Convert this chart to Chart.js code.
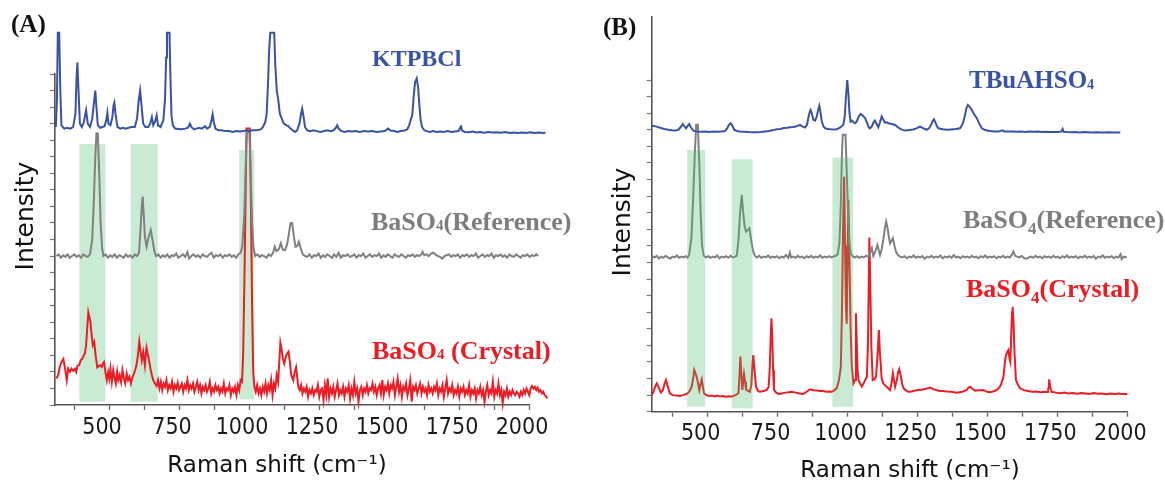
<!DOCTYPE html>
<html><head><meta charset="utf-8">
<script src="https://cdn.jsdelivr.net/npm/chart.js@4"></script>
<style>
html,body{margin:0;padding:0;background:#fff;width:1165px;height:481px;overflow:hidden}
#wa{position:absolute;left:0;top:0;width:582px;height:481px}
#wb{position:absolute;left:582px;top:0;width:583px;height:481px}
</style></head><body>
<div id="wa"><canvas id="ca"></canvas></div>
<div id="wb"><canvas id="cb"></canvas></div>
<script>
// ---------- DATA ----------
const xTicks = [375,500,625,750,875,1000,1125,1250,1375,1500,1625,1750,1875,2000];
const xLabels = [500,750,1000,1250,1500,1750,2000];
const yTicks = [0,1,2,3,4,5,6,7,8,9,10,11,12,13,14,15,16,17,18,19,20];

// Panel A
const ktpbcl = [[310,16.8],[314,18.5],[317,22.5],[322,22.5],[326,19],[330,16.9],[340,16.7],[350,16.75],[362,16.7],[372,16.8],[380,17.6],[384,19.8],[387,20.7],[391,19],[396,17],[403,16.8],[410,17.1],[418,17.8],[424,17.0],[432,16.8],[440,17.3],[447,18.4],[451,19.0],[455,18],[460,16.9],[468,16.75],[476,16.8],[484,16.85],[490,17.2],[494,17.66],[498,17.0],[505,16.9],[512,17.4],[516,18.1],[519,18.27],[523,17.6],[530,16.8],[540,16.7],[550,16.75],[560,16.7],[570,16.75],[580,16.8],[592,16.8],[600,17.3],[606,18.4],[611,19.0],[616,18.1],[622,17.0],[630,16.8],[640,16.8],[647,17.0],[653,17.4],[658,16.9],[664,17.1],[670,17.5],[675,16.9],[684,16.8],[694,17.2],[700,18.5],[704,21],[707,22.5],[716,22.5],[719,20],[723,17.5],[728,16.9],[736,16.7],[748,16.68],[760,16.66],[772,16.7],[782,16.75],[789,17.0],[794,16.8],[803,16.65],[812,16.7],[822,16.75],[832,16.7],[843,16.85],[850,16.7],[860,16.8],[866,17.2],[870,17.56],[874,17.1],[880,16.7],[890,16.6],[903,16.6],[915,16.55],[928,16.55],[943,16.5],[955,16.55],[968,16.52],[980,16.55],[991,16.6],[1002,16.55],[1012,16.6],[1022,16.6],[1032,16.62],[1042,16.65],[1050,16.8],[1058,17.1],[1063,17.6],[1068,19.5],[1072,21.5],[1076,22.5],[1090,22.5],[1094,20.5],[1099,19.0],[1104,18.5],[1110,17.6],[1117,17.3],[1124,17.0],[1134,16.9],[1140,16.85],[1148,16.7],[1156,16.6],[1164,16.5],[1172,16.6],[1180,17.0],[1186,17.6],[1190,17.9],[1195,17.4],[1200,16.8],[1208,16.6],[1218,16.55],[1230,16.6],[1242,16.55],[1255,16.5],[1268,16.55],[1280,16.6],[1292,16.55],[1302,16.6],[1310,16.75],[1315,16.9],[1320,16.7],[1330,16.55],[1342,16.5],[1355,16.55],[1368,16.52],[1380,16.55],[1395,16.5],[1410,16.55],[1425,16.52],[1440,16.55],[1455,16.5],[1470,16.52],[1485,16.55],[1497,16.7],[1505,16.58],[1518,16.55],[1530,16.5],[1542,16.55],[1555,16.58],[1565,16.65],[1572,16.9],[1577,17.2],[1583,17.5],[1588,18.6],[1593,19.5],[1599,19.74],[1604,19.2],[1609,18.0],[1613,17.2],[1618,16.8],[1626,16.6],[1634,16.55],[1645,16.5],[1658,16.55],[1670,16.5],[1684,16.52],[1696,16.5],[1710,16.55],[1722,16.5],[1735,16.52],[1748,16.55],[1754,16.75],[1757,16.9],[1760,16.6],[1770,16.5],[1784,16.48],[1798,16.52],[1812,16.47],[1826,16.5],[1840,16.45],[1855,16.5],[1870,16.46],[1885,16.48],[1900,16.45],[1915,16.5],[1930,16.44],[1945,16.47],[1960,16.43],[1975,16.47],[1990,16.44],[2005,16.48],[2020,16.43],[2035,16.46],[2048,16.44],[2059,16.45]];

const refA = [[312,9.0],[320,9.1],[328,8.9],[336,9.05],[344,8.95],[352,9.1],[360,8.9],[368,9.0],[376,9.1],[384,8.95],[392,9.05],[400,8.9],[408,9.1],[416,9.0],[424,8.95],[432,9.1],[440,10.0],[446,12.5],[451,15],[455,16.4],[460,16.4],[465,14],[470,11],[475,9.5],[480,9.0],[488,9.1],[496,8.9],[504,9.05],[512,8.95],[520,9.1],[528,8.9],[536,9.05],[544,9.0],[552,8.9],[560,9.1],[568,8.95],[576,9.05],[584,8.9],[592,9.1],[600,9.0],[607,9.2],[612,10.5],[617,12.0],[620,12.6],[624,11.5],[628,10.2],[634,9.57],[641,10.1],[649,10.57],[655,10.0],[662,9.3],[668,9.0],[676,9.1],[684,8.9],[692,9.05],[700,8.95],[708,9.1],[716,8.9],[724,9.05],[732,9.0],[740,9.15],[748,8.9],[756,9.0],[764,9.1],[772,8.95],[780,9.25],[786,8.85],[794,9.0],[802,9.1],[810,8.95],[818,9.05],[826,8.9],[834,9.1],[842,9.0],[850,8.95],[858,9.1],[866,9.2],[874,8.9],[882,9.05],[890,9.0],[898,9.1],[906,8.9],[914,9.05],[922,9.0],[930,9.1],[938,8.95],[946,9.05],[954,8.9],[962,9.1],[970,9.2],[976,9.6],[983,11.5],[989,15],[993,16.5],[1001,16.5],[1006,14],[1011,11],[1016,9.5],[1022,9.0],[1030,9.1],[1038,8.95],[1046,9.05],[1054,9.0],[1062,8.9],[1070,9.1],[1078,9.0],[1086,9.2],[1092,9.57],[1098,9.3],[1106,9.4],[1114,9.77],[1120,9.4],[1128,9.35],[1136,9.7],[1142,10.3],[1148,10.98],[1154,11.0],[1160,10.2],[1166,9.57],[1172,9.6],[1178,9.87],[1184,9.5],[1192,9.1],[1200,9.0],[1208,8.95],[1216,9.1],[1224,8.9],[1232,9.05],[1240,9.0],[1248,9.15],[1256,8.9],[1264,9.05],[1272,8.95],[1280,9.1],[1288,9.0],[1296,8.9],[1304,9.1],[1312,8.95],[1320,9.2],[1328,8.9],[1336,9.05],[1344,9.0],[1352,9.1],[1360,8.95],[1368,9.0],[1376,9.1],[1384,8.9],[1392,9.05],[1400,9.0],[1408,9.15],[1416,8.9],[1424,9.0],[1432,9.1],[1440,8.95],[1448,9.05],[1456,9.0],[1464,9.15],[1472,8.9],[1480,9.05],[1488,8.95],[1496,9.1],[1504,9.0],[1512,8.9],[1520,9.1],[1528,9.0],[1536,8.95],[1544,9.1],[1552,9.0],[1560,8.9],[1568,9.05],[1576,9.0],[1584,9.1],[1592,8.95],[1600,9.05],[1608,9.0],[1616,9.1],[1620,9.25],[1626,9.05],[1634,9.1],[1642,9.0],[1650,9.15],[1658,9.2],[1666,9.1],[1674,9.0],[1682,8.95],[1690,8.85],[1698,9.0],[1706,9.05],[1714,9.1],[1722,8.95],[1730,9.05],[1738,9.0],[1746,9.1],[1754,8.9],[1762,9.05],[1770,9.0],[1778,9.1],[1786,8.95],[1794,9.05],[1802,9.0],[1810,9.15],[1818,8.9],[1826,9.0],[1834,9.1],[1842,8.95],[1850,9.05],[1858,9.0],[1866,9.15],[1874,8.9],[1882,9.05],[1890,9.0],[1898,9.1],[1906,8.95],[1914,9.05],[1922,8.9],[1930,9.1],[1938,9.0],[1946,8.95],[1954,9.1],[1962,9.0],[1970,8.9],[1978,9.05],[1986,9.0],[1994,9.1],[2002,8.95],[2010,9.05],[2018,9.0],[2026,9.1],[2033,9.0]];

const crystalA = [[312,1.6],[318,1.8],[324,2.3],[330,2.6],[337,2.78],[343,2.2],[349,1.5],[354,2.2],[360,2.0],[366,2.2],[372,2.07],[378,2.2],[383,2.0],[387,2.36],[393,2.4],[399,2.7],[405,2.8],[410,3.0],[414,3.12],[418,3.6],[422,4.6],[426,5.6],[430,5.3],[434,4.94],[438,4.2],[442,3.63],[447,3.83],[452,3.0],[458,2.28],[463,2.35],[468,2.4],[474,2.3],[478,2.5],[482,2.6],[487,2.0],[492,1.5],[497,2.0],[501,1.6],[505,2.2],[510,1.4],[515,2.1],[519,1.7],[524,1.3],[529,2.0],[533,1.5],[538,1.8],[543,1.4],[548,2.1],[553,1.6],[558,1.3],[563,1.9],[568,1.5],[573,1.7],[578,1.3],[584,1.7],[589,1.9],[593,2.1],[598,2.4],[603,3.0],[608,3.83],[612,3.3],[617,2.7],[622,3.2],[628,2.4],[631,3.0],[634,3.46],[638,3.1],[643,2.7],[648,2.2],[653,1.8],[658,1.5],[664,1.3],[670,1.15],[675,1.5],[680,1.0],[685,1.4],[690,0.9],[695,1.3],[700,1.1],[705,1.5],[710,0.9],[715,1.2],[720,1.0],[725,1.4],[730,0.8],[735,1.2],[740,1.0],[745,1.35],[750,0.9],[755,1.1],[760,1.3],[765,0.8],[770,1.2],[775,1.0],[780,1.5],[785,0.9],[790,1.2],[795,1.0],[800,1.3],[805,0.8],[810,1.1],[815,1.4],[820,0.9],[825,1.2],[830,0.7],[835,1.1],[840,0.9],[845,1.2],[850,0.8],[855,1.0],[860,1.4],[865,0.7],[870,1.0],[875,0.8],[880,1.2],[885,0.9],[890,1.1],[895,0.7],[900,1.0],[905,0.8],[910,1.3],[915,0.7],[920,1.0],[925,0.9],[930,1.2],[935,0.6],[940,1.0],[945,0.8],[950,1.1],[955,0.6],[960,1.2],[965,0.9],[970,1.5],[975,1.4],[979,3],[984,8],[988,13],[991,16.7],[1003,16.7],[1007,12],[1011,6],[1015,2],[1019,1.1],[1024,0.8],[1029,1.2],[1034,0.7],[1039,1.0],[1044,0.6],[1049,1.1],[1054,0.8],[1059,1.3],[1064,0.7],[1069,1.2],[1074,0.9],[1079,1.5],[1084,0.6],[1089,1.3],[1094,1.0],[1099,1.8],[1104,1.4],[1108,2.6],[1112,3.76],[1116,3.4],[1121,2.8],[1126,2.5],[1131,2.9],[1136,3.1],[1141,3.22],[1146,2.6],[1151,1.8],[1158,1.5],[1163,2.0],[1168,2.28],[1172,1.7],[1176,1.1],[1181,0.9],[1186,1.2],[1191,0.7],[1196,1.0],[1201,0.8],[1206,1.1],[1211,0.5],[1216,0.9],[1221,0.7],[1226,1.0],[1231,0.6],[1236,0.9],[1241,0.8],[1246,1.2],[1251,0.5],[1256,0.9],[1261,1.0],[1266,0.3],[1271,1.2],[1276,0.6],[1281,1.6],[1286,0.5],[1291,1.0],[1296,0.7],[1301,1.1],[1306,0.5],[1311,0.9],[1316,1.3],[1321,0.6],[1326,0.9],[1331,0.7],[1336,1.1],[1341,0.5],[1346,1.0],[1351,0.8],[1356,1.2],[1361,0.4],[1366,1.0],[1371,0.6],[1376,1.4],[1381,0.7],[1386,1.0],[1391,0.2],[1396,0.9],[1401,1.1],[1406,0.6],[1411,1.0],[1416,0.8],[1421,1.2],[1426,0.7],[1431,1.0],[1436,0.9],[1441,1.3],[1446,0.8],[1451,1.1],[1456,0.6],[1461,1.0],[1466,1.2],[1471,0.7],[1476,1.5],[1481,0.6],[1486,1.1],[1491,0.9],[1496,1.3],[1501,0.7],[1506,1.2],[1511,1.0],[1516,1.4],[1521,0.6],[1526,1.1],[1531,1.6],[1536,0.8],[1541,1.2],[1546,0.5],[1551,1.1],[1556,0.9],[1561,1.3],[1566,0.6],[1571,1.0],[1576,1.5],[1581,0.2],[1586,1.1],[1591,0.9],[1596,1.2],[1601,0.7],[1606,1.0],[1611,1.3],[1616,0.7],[1621,1.1],[1626,0.8],[1631,1.0],[1636,0.6],[1641,1.2],[1646,0.8],[1651,1.0],[1656,0.7],[1661,1.1],[1666,0.9],[1671,1.3],[1676,0.6],[1681,1.0],[1686,0.8],[1691,1.2],[1696,0.5],[1701,1.0],[1706,1.5],[1711,0.7],[1716,1.0],[1721,0.8],[1726,1.2],[1731,0.6],[1736,0.9],[1741,0.7],[1746,1.1],[1751,0.5],[1756,1.0],[1761,0.8],[1766,1.1],[1771,0.6],[1776,0.9],[1781,0.7],[1786,1.2],[1791,0.5],[1796,0.9],[1801,0.7],[1806,1.0],[1811,0.4],[1816,0.9],[1821,0.7],[1826,1.1],[1831,0.6],[1836,0.9],[1841,0.2],[1846,0.8],[1851,1.2],[1856,0.6],[1861,0.9],[1866,0.7],[1871,1.4],[1876,0.5],[1881,0.9],[1886,0.7],[1891,1.3],[1896,0.6],[1901,0.9],[1906,0.1],[1911,0.8],[1916,0.6],[1921,1.0],[1926,0.5],[1931,0.8],[1936,0.6],[1941,0.9],[1946,0.7],[1951,0.6],[1956,0.8],[1961,0.7],[1966,0.5],[1971,0.8],[1976,0.6],[1981,0.9],[1986,0.7],[1991,1.0],[1996,0.8],[2001,0.6],[2006,1.0],[2011,1.15],[2016,1.0],[2021,1.1],[2026,0.9],[2031,1.05],[2036,0.8],[2041,0.9],[2046,0.7],[2051,0.8],[2056,0.6],[2061,0.5],[2066,0.4]];

const bandsA = [[394,487,0.2,15.77],[577,674,0.2,15.77],[965,1019,0.34,15.4]];

// Panel B
const tbuahso4 = [[300,17.23],[310,17.22],[318,17.19],[330,17.12],[345,17.05],[360,17.0],[372,16.97],[383,16.95],[395,17.0],[403,17.15],[411,17.35],[417,17.2],[423,17.09],[429,17.25],[434,17.35],[440,17.15],[449,16.95],[460,16.9],[475,16.88],[490,16.9],[505,16.87],[520,16.9],[535,16.88],[550,16.9],[562,16.92],[570,17.1],[576,17.3],[582,17.39],[588,17.25],[595,17.0],[604,16.93],[615,16.9],[630,16.88],[645,16.86],[660,16.85],[675,16.85],[690,16.87],[705,16.9],[720,16.93],[735,16.98],[747,17.03],[760,17.05],[772,17.1],[785,17.12],[794,17.15],[805,17.17],[815,17.2],[823,17.25],[830,17.29],[838,17.2],[848,17.13],[855,17.3],[861,17.8],[865,18.1],[868,18.2],[872,18.0],[878,17.6],[884,17.55],[890,17.8],[895,18.2],[899,18.44],[903,18.1],[908,17.5],[914,17.2],[920,17.09],[930,17.05],[940,17.03],[950,17.02],[961,17.03],[970,17.1],[978,17.2],[985,17.3],[990,17.8],[994,18.9],[999,20.0],[1003,19.2],[1007,18.0],[1011,17.49],[1016,17.55],[1021,17.45],[1027,17.39],[1033,17.5],[1040,17.8],[1047,17.96],[1055,17.85],[1063,17.7],[1070,17.4],[1076,17.15],[1080,17.09],[1087,17.2],[1093,17.45],[1098,17.55],[1104,17.35],[1110,17.15],[1116,17.45],[1122,17.8],[1128,17.6],[1134,17.43],[1140,17.45],[1146,17.39],[1158,17.35],[1170,17.29],[1180,17.15],[1192,17.02],[1206,16.95],[1220,16.98],[1235,17.02],[1248,17.1],[1259,17.19],[1270,17.1],[1283,17.0],[1292,17.1],[1300,17.35],[1305,17.55],[1309,17.63],[1314,17.45],[1320,17.2],[1325,17.09],[1340,17.03],[1355,17.0],[1370,17.02],[1388,17.05],[1402,17.09],[1410,17.3],[1416,17.6],[1420,17.9],[1425,18.3],[1430,18.5],[1436,18.4],[1444,18.2],[1452,17.95],[1462,17.7],[1470,17.4],[1480,17.09],[1490,17.0],[1498,16.95],[1510,16.92],[1525,16.9],[1540,16.9],[1555,16.97],[1560,16.9],[1575,16.89],[1590,16.9],[1605,16.88],[1620,16.9],[1635,16.87],[1650,16.89],[1665,16.88],[1680,16.9],[1695,16.86],[1710,16.88],[1725,16.87],[1740,16.86],[1755,16.87],[1765,16.9],[1769,17.05],[1773,16.88],[1785,16.86],[1800,16.85],[1815,16.87],[1830,16.84],[1845,16.86],[1860,16.85],[1875,16.83],[1890,16.85],[1905,16.84],[1920,16.83],[1935,16.85],[1950,16.83],[1965,16.84],[1975,16.83]];

const refB = [[300,9.39],[310,9.3],[318,9.4],[326,9.25],[334,9.35],[342,9.28],[350,9.4],[358,9.3],[366,9.22],[374,9.35],[382,9.3],[390,9.42],[398,9.28],[406,9.35],[414,9.3],[422,9.38],[428,9.3],[434,9.45],[442,10.5],[448,12.8],[454,15.5],[459,17.3],[465,17.3],[470,15],[475,12],[480,10],[486,9.4],[494,9.3],[502,9.38],[510,9.28],[518,9.35],[526,9.3],[534,9.42],[542,9.25],[550,9.35],[558,9.3],[566,9.38],[574,9.28],[582,9.4],[590,9.3],[598,9.35],[604,9.4],[610,10.3],[616,12.0],[622,13.07],[627,12.0],[632,11.2],[637,10.86],[643,10.95],[649,11.06],[655,10.4],[662,9.7],[669,9.39],[676,9.3],[684,9.4],[692,9.28],[700,9.35],[708,9.3],[716,9.42],[724,9.28],[732,9.35],[740,9.3],[748,9.38],[756,9.25],[764,9.35],[772,9.3],[780,9.45],[788,9.28],[794,9.6],[798,9.3],[806,9.35],[814,9.28],[822,9.4],[830,9.3],[838,9.35],[846,9.25],[854,9.38],[862,9.3],[870,9.4],[878,9.28],[886,9.35],[894,9.3],[902,9.42],[910,9.28],[918,9.35],[926,9.3],[934,9.38],[942,9.3],[950,9.35],[958,9.4],[965,9.5],[971,10.2],[976,12.5],[980,15.5],[983,16.7],[993,16.7],[997,14.5],[1002,12],[1007,10.2],[1012,9.5],[1018,9.39],[1026,9.3],[1034,9.38],[1042,9.28],[1050,9.35],[1058,9.3],[1066,9.4],[1075,9.35],[1081,9.6],[1087,9.86],[1092,9.4],[1100,9.7],[1107,10.05],[1112,9.7],[1116,9.45],[1122,9.8],[1128,10.4],[1133,11.0],[1138,11.46],[1143,11.1],[1148,10.5],[1152,10.16],[1157,10.3],[1162,10.46],[1168,10.0],[1173,9.65],[1180,9.45],[1188,9.35],[1196,9.3],[1204,9.38],[1212,9.25],[1220,9.35],[1228,9.3],[1236,9.42],[1244,9.28],[1252,9.35],[1260,9.3],[1268,9.38],[1276,9.22],[1284,9.35],[1292,9.3],[1300,9.4],[1308,9.28],[1316,9.35],[1324,9.3],[1332,9.42],[1340,9.25],[1348,9.35],[1356,9.3],[1364,9.38],[1372,9.28],[1380,9.45],[1388,9.3],[1396,9.35],[1404,9.25],[1412,9.38],[1420,9.3],[1428,9.35],[1436,9.28],[1444,9.4],[1452,9.3],[1460,9.35],[1468,9.25],[1476,9.38],[1484,9.3],[1492,9.42],[1500,9.28],[1508,9.35],[1516,9.3],[1524,9.38],[1532,9.25],[1540,9.35],[1548,9.3],[1556,9.4],[1564,9.28],[1572,9.35],[1580,9.3],[1587,9.45],[1593,9.65],[1599,9.4],[1606,9.35],[1614,9.3],[1623,9.39],[1632,9.25],[1640,9.22],[1648,9.3],[1656,9.35],[1664,9.28],[1672,9.4],[1680,9.3],[1688,9.35],[1696,9.25],[1704,9.38],[1712,9.3],[1720,9.35],[1728,9.28],[1736,9.4],[1744,9.3],[1752,9.35],[1760,9.25],[1768,9.38],[1776,9.3],[1784,9.42],[1792,9.28],[1800,9.35],[1808,9.3],[1816,9.38],[1824,9.25],[1832,9.35],[1840,9.3],[1848,9.4],[1856,9.28],[1864,9.35],[1872,9.3],[1880,9.38],[1888,9.22],[1896,9.35],[1904,9.3],[1912,9.42],[1920,9.28],[1928,9.35],[1936,9.3],[1944,9.38],[1952,9.25],[1960,9.35],[1968,9.3],[1976,9.5],[1980,9.2],[1988,9.35],[1998,9.3]];

const crystalB = [[300,1.0],[306,1.2],[312,1.5],[318,1.71],[324,1.5],[333,1.15],[340,1.3],[346,1.7],[351,1.91],[356,1.6],[365,1.11],[375,1.0],[388,0.97],[401,0.95],[412,1.0],[425,1.07],[434,1.2],[443,1.51],[448,2.0],[452,2.52],[457,2.3],[463,1.95],[470,1.31],[475,1.7],[479,1.95],[483,1.5],[487,1.11],[495,1.0],[505,0.95],[515,0.98],[525,0.92],[535,0.97],[545,0.92],[555,0.95],[565,0.9],[575,0.93],[586,0.92],[598,0.98],[610,1.11],[614,2.2],[617,3.32],[620,2.4],[624,1.31],[627,1.8],[630,2.27],[634,1.8],[637,1.35],[644,1.25],[651,1.2],[656,1.6],[660,2.8],[663,3.42],[667,2.6],[673,1.51],[680,1.25],[687,1.2],[699,1.25],[711,1.31],[718,1.5],[722,2.6],[725,4.3],[728,5.63],[731,4.5],[734,2.5],[737,1.31],[745,1.15],[753,1.07],[765,1.1],[778,1.15],[790,1.18],[801,1.2],[815,1.15],[828,1.1],[842,1.07],[854,1.2],[866,1.35],[878,1.3],[890,1.28],[902,1.25],[913,1.25],[925,1.2],[935,1.22],[944,1.2],[953,1.3],[961,1.41],[968,1.8],[972,2.2],[976,2.71],[980,6],[984,11],[988,14.17],[991,10],[994,6.5],[997,5.3],[1000,9],[1003,12.77],[1007,9],[1011,5],[1015,2.8],[1021,1.71],[1027,1.91],[1030,5.93],[1033,4.2],[1036,2.5],[1039,1.91],[1045,1.7],[1051,1.51],[1060,1.8],[1069,2.11],[1073,4],[1076,8],[1078,10.5],[1081,8],[1085,4],[1090,1.91],[1096,1.95],[1102,2.11],[1107,3.3],[1112,4.93],[1116,3.5],[1122,2.0],[1128,1.71],[1140,1.5],[1152,1.31],[1157,1.7],[1162,2.32],[1166,1.9],[1170,1.51],[1176,1.9],[1181,2.4],[1185,2.56],[1190,2.2],[1195,1.7],[1200,1.41],[1208,1.3],[1217,1.2],[1230,1.22],[1242,1.28],[1253,1.31],[1265,1.33],[1280,1.38],[1295,1.45],[1308,1.35],[1325,1.27],[1340,1.25],[1355,1.22],[1370,1.2],[1391,1.15],[1410,1.2],[1425,1.3],[1432,1.45],[1438,1.51],[1445,1.4],[1456,1.27],[1470,1.3],[1486,1.31],[1498,1.2],[1510,1.17],[1525,1.25],[1537,1.35],[1545,1.51],[1551,1.75],[1557,2.07],[1562,2.9],[1566,3.42],[1571,3.6],[1575,3.72],[1579,3.2],[1582,3.0],[1585,4.5],[1588,6.0],[1590,6.33],[1593,5.5],[1597,3.5],[1602,1.91],[1610,1.6],[1617,1.41],[1630,1.3],[1645,1.25],[1660,1.2],[1675,1.22],[1690,1.18],[1705,1.2],[1716,1.18],[1719,1.5],[1721,1.95],[1724,1.5],[1730,1.2],[1745,1.15],[1760,1.12],[1775,1.15],[1790,1.1],[1805,1.13],[1820,1.08],[1835,1.12],[1850,1.1],[1865,1.07],[1880,1.12],[1895,1.08],[1910,1.1],[1925,1.06],[1940,1.1],[1955,1.07],[1970,1.09],[1985,1.06],[2000,1.07]];

const bandsB = [[427,491,0.3,15.78],[586,661,0.2,15.22],[946,1020,0.3,15.32]];

// ---------- STYLE ----------
const BLUE = 'rgb(57,83,164)', GRAY = 'rgb(128,128,128)', RED = 'rgb(236,28,36)';
const BAND = 'rgba(80,190,110,0.30)';
const SERIF = "'Liberation Serif','Times New Roman',serif";
const SANS = "'DejaVu Sans',sans-serif";
const NARROW = "'Liberation Sans Narrow','DejaVu Sans Condensed','Liberation Sans',sans-serif";

function bandsPlugin(list, over) {
  const draw = (chart) => {
    const {ctx, scales:{x, y}} = chart;
    ctx.save(); ctx.fillStyle = BAND;
    list.forEach(b => {
      const x0 = x.getPixelForValue(b[0]), x1 = x.getPixelForValue(b[1]);
      const y0 = y.getPixelForValue(b[3]), y1 = y.getPixelForValue(b[2]);
      ctx.fillRect(x0, y0, x1 - x0, y1 - y0);
    });
    ctx.restore();
  };
  return { id: 'bands', beforeDatasetsDraw(c){ if(!over) draw(c); }, afterDatasetsDraw(c){ if(over) draw(c); } };
}
function textsPlugin(items) {
  return { id: 'texts', afterDraw(chart) {
    const ctx = chart.ctx;
    items.forEach(it => {
      ctx.save();
      ctx.translate(it.x, it.y);
      if (it.rot) ctx.rotate(it.rot);
      ctx.fillStyle = it.color; ctx.textBaseline = 'alphabetic'; ctx.textAlign = 'left';
      const fam = it.family, wt = it.weight || 'normal';
      let total = 0; const ws = [];
      it.segs.forEach(s => { ctx.font = wt + ' ' + s[1] + 'px ' + fam; const w = ctx.measureText(s[0]).width; ws.push(w); total += w; });
      let cx = it.center ? -total / 2 : 0;
      it.segs.forEach((s, i) => { ctx.font = wt + ' ' + s[1] + 'px ' + fam; ctx.fillText(s[0], cx, s[2] || 0); cx += ws[i]; });
      ctx.restore();
    });
  }};
}

function makePanel(id, p) {
  return new Chart(document.getElementById(id), {
    type: 'line',
    data: { datasets: p.series.map(s => ({ data: s[0], borderColor: s[1], borderWidth: 2, pointRadius: 0, tension: 0, clip: false, fill: false })) },
    options: {
      responsive: true, maintainAspectRatio: false, animation: false, events: [],
      layout: { padding: p.pad },
      plugins: { legend: { display: false }, tooltip: { enabled: false } },
      scales: {
        x: {
          type: 'linear', bounds: 'data', position: 'bottom',
          afterDataLimits: s => { s.min = p.xMin; s.max = p.xMax; },
          afterBuildTicks: s => { s.ticks = xTicks.map(v => ({ value: v })); },
          afterFit: s => { s.height = 30; },
          ticks: { autoSkip: false, maxRotation: 0, padding: 4, labelOffset: -7, color: '#1a1a1a',
                   font: { family: NARROW, size: 23 },
                   callback: v => xLabels.includes(v) ? String(v) : '' },
          grid: { drawOnChartArea: false, drawTicks: true, tickLength: 5, color: '#666', tickWidth: 1.3 },
          border: { display: true, color: '#555', width: 1.6 }
        },
        y: {
          type: 'linear', min: 0, max: p.yMax,
          afterBuildTicks: s => { s.ticks = yTicks.map(v => ({ value: v })); },
          afterFit: s => { s.width = 8; },
          ticks: { display: false },
          grid: { drawOnChartArea: false, drawTicks: true, tickLength: 5, color: '#777', tickWidth: 1.2 },
          border: { display: true, color: '#555', width: 1.6 }
        }
      }
    },
    plugins: [bandsPlugin(p.bands, p.over), textsPlugin(p.texts)]
  });
}

makePanel('ca', {
  series: [[ktpbcl, BLUE], [refA, GRAY], [crystalA, RED]],
  bands: bandsA, over: false,
  xMin: 307, xMax: 2000, yMax: 20,
  pad: { left: 47, right: 53, top: 74, bottom: 46 },
  texts: [
    { x: 11, y: 32, segs: [['(A)', 25]], family: SERIF, weight: 'bold', color: '#111' },
    { x: 372, y: 66, segs: [['KTPBCl', 24]], family: SERIF, weight: 'bold', color: BLUE },
    { x: 371, y: 230, segs: [['BaSO', 26], ['4', 15], ['(Reference)', 26]], family: SERIF, weight: 'bold', color: 'rgb(125,125,125)' },
    { x: 372, y: 359, segs: [['BaSO', 26], ['4', 15], [' (Crystal)', 26]], family: SERIF, weight: 'bold', color: RED },
    { x: 33, y: 216, rot: -Math.PI / 2, center: true, segs: [['Intensity', 25]], family: SANS, color: '#111' },
    { x: 277, y: 472, center: true, segs: [['Raman shift (cm\u207B\u00B9)', 23]], family: SANS, color: '#111' }
  ]
});

makePanel('cb', {
  series: [[tbuahso4, BLUE], [refB, GRAY], [crystalB, RED]],
  bands: bandsB, over: true,
  xMin: 300, xMax: 2000, yMax: 23.8,
  pad: { left: 61.7, right: 37.7, top: 17, bottom: 39.3 },
  texts: [
    { x: 21, y: 35, segs: [['(B)', 25]], family: SERIF, weight: 'bold', color: '#111' },
    { x: 387, y: 88, segs: [['TBuAHSO', 25], ['4', 14, 1]], family: SERIF, weight: 'bold', color: BLUE },
    { x: 381, y: 228, segs: [['BaSO', 26], ['4', 17, 6], ['(Reference)', 26]], family: SERIF, weight: 'bold', color: 'rgb(125,125,125)' },
    { x: 384, y: 297, segs: [['BaSO', 26], ['4', 17, 6], ['(Crystal)', 26]], family: SERIF, weight: 'bold', color: RED },
    { x: 48, y: 222, rot: -Math.PI / 2, center: true, segs: [['Intensity', 25]], family: SANS, color: '#111' },
    { x: 328, y: 477, center: true, segs: [['Raman shift (cm\u207B\u00B9)', 23]], family: SANS, color: '#111' }
  ]
});
</script>
</body></html>
